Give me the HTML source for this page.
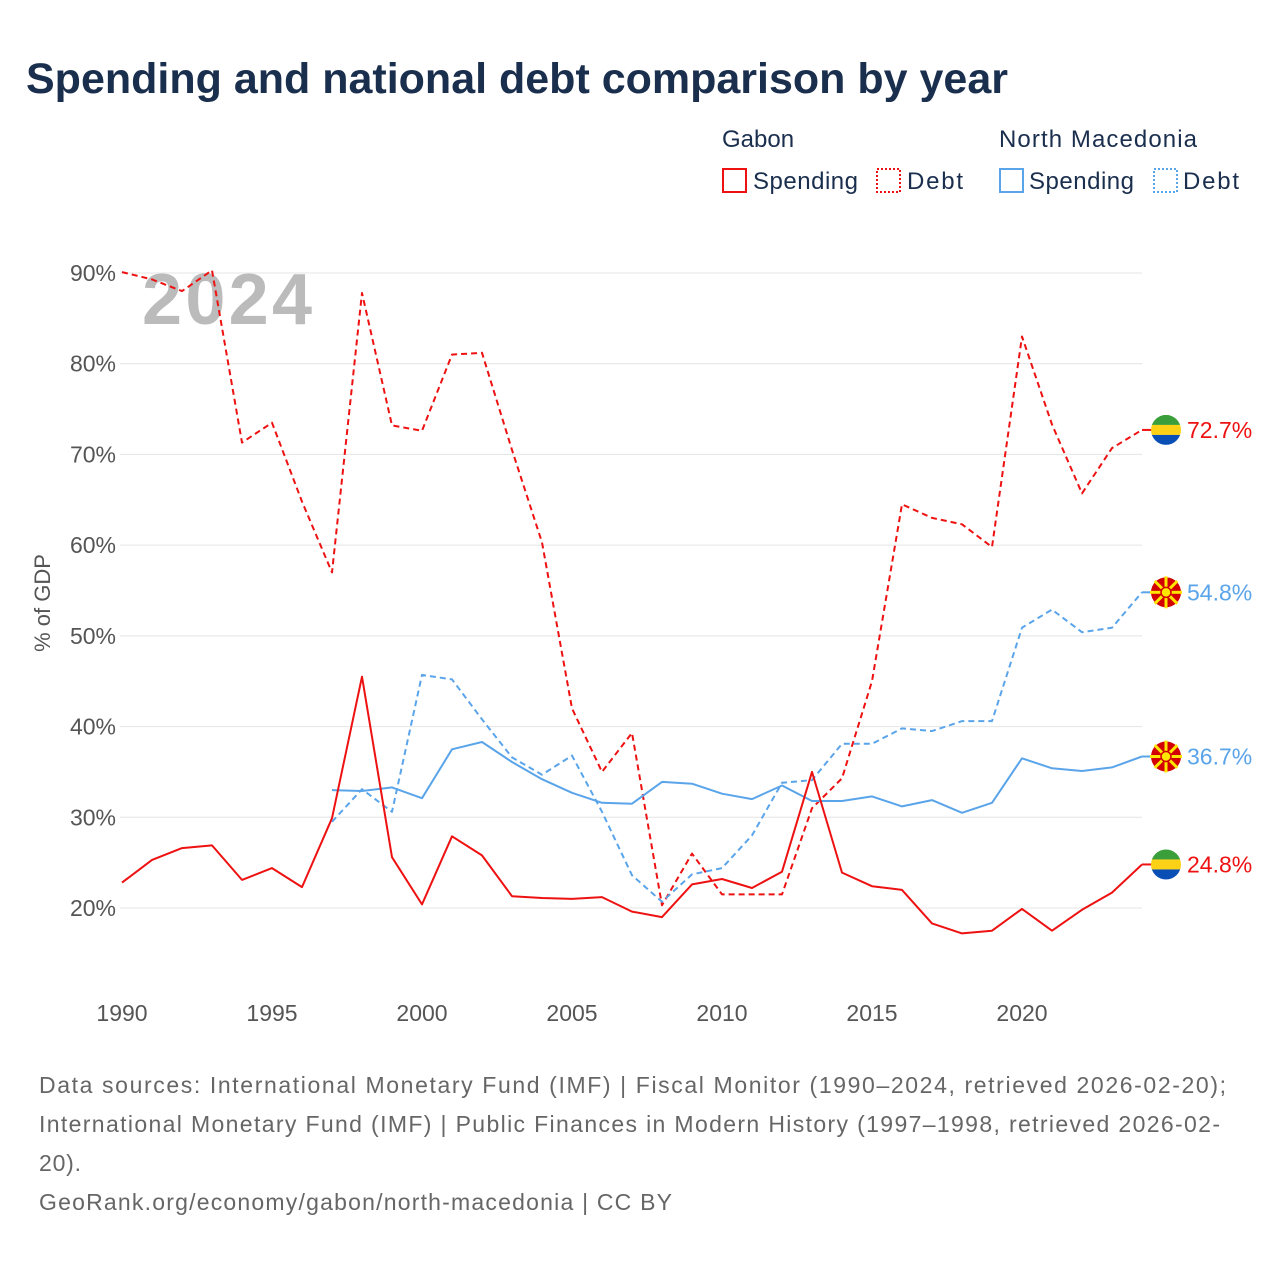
<!DOCTYPE html>
<html><head><meta charset="utf-8"><style>
body{margin:0;background:#fff;font-family:"Liberation Sans",sans-serif}
</style></head><body>
<svg id="chart" width="1280" height="1280" xmlns="http://www.w3.org/2000/svg" font-family="Liberation Sans, sans-serif">
<rect width="1280" height="1280" fill="#fff"/>
<text x="26" y="93" font-size="43" font-weight="bold" fill="#1a2e4d">Spending and national debt comparison by year</text>
<g font-size="24" fill="#1a2e4d">
<text x="722" y="147">Gabon</text>
<text x="999" y="147" textLength="198">North Macedonia</text>
<g><rect x="723" y="169" width="23" height="23" fill="none" stroke="#ee1111" stroke-width="2"/><text x="753" y="189" textLength="105">Spending</text></g>
<g><rect x="877" y="169" width="23" height="23" fill="none" stroke="#ee1111" stroke-width="2" stroke-dasharray="2,2"/><text x="907" y="189" textLength="56">Debt</text></g>
<g><rect x="1000" y="169" width="23" height="23" fill="none" stroke="#5aa4ea" stroke-width="2"/><text x="1029" y="189" textLength="105">Spending</text></g>
<g><rect x="1154" y="169" width="23" height="23" fill="none" stroke="#5aa4ea" stroke-width="2" stroke-dasharray="2,2"/><text x="1183" y="189" textLength="56">Debt</text></g>
</g>
<g id="grid"></g>
<text x="142" y="324" font-size="72" font-weight="bold" fill="#bbbbbb" textLength="170">2024</text>
<text transform="translate(50,603) rotate(-90)" text-anchor="middle" font-size="22" fill="#555">% of GDP</text>
<g id="series"></g>
<g id="ends"></g>
<g font-size="23" fill="#666">
<text x="39" y="1093" textLength="1187">Data sources: International Monetary Fund (IMF) | Fiscal Monitor (1990–2024, retrieved 2026-02-20);</text>
<text x="39" y="1132" textLength="1181">International Monetary Fund (IMF) | Public Finances in Modern History (1997–1998, retrieved 2026-02-</text>
<text x="39" y="1171" textLength="42">20).</text>
<text x="39" y="1210" textLength="633">GeoRank.org/economy/gabon/north-macedonia | CC BY</text>
</g>
</svg>
<script>
const gabonYears=[];for(let y=1990;y<=2024;y++)gabonYears.push(y);
const nmYears=[];for(let y=1997;y<=2024;y++)nmYears.push(y);
const gabonDebt=[90.1,89.3,88,90.3,71.3,73.5,64.8,57,87.8,73.2,72.6,81,81.2,70.5,60.3,42,35,39.3,20.3,26,21.5,21.5,21.5,31,34.3,45,64.5,63,62.3,59.8,83,73.3,65.7,70.7,72.7];
const gabonSpending=[22.8,25.3,26.6,26.9,23.1,24.4,22.3,29.9,45.5,25.6,20.4,27.9,25.8,21.3,21.1,21,21.2,19.6,19,22.6,23.2,22.2,24,35,23.9,22.4,22,18.3,17.2,17.5,19.9,17.5,19.8,21.7,24.8];
const nmSpending=[33,32.9,33.3,32.1,37.5,38.3,36.1,34.2,32.7,31.6,31.5,33.9,33.7,32.6,32,33.5,31.8,31.8,32.3,31.2,31.9,30.5,31.6,36.5,35.4,35.1,35.5,36.7];
const nmDebt=[29.5,33.1,30.6,45.7,45.2,40.8,36.6,34.7,36.8,30.6,23.6,20.7,23.7,24.4,28,33.8,34.1,38.1,38.1,39.8,39.5,40.6,40.6,50.9,52.9,50.4,50.9,54.8];
const yTicks=[20,30,40,50,60,70,80,90];
const xTicks=[1990,1995,2000,2005,2010,2015,2020];
const NS='http://www.w3.org/2000/svg';
const X=y=>122+(y-1990)*30;
const Y=v=>908-(v-20)*9.0714;
function mk(t,a,p){const e=document.createElementNS(NS,t);for(const k in a)e.setAttribute(k,a[k]);p.appendChild(e);return e;}
const grid=document.getElementById('grid');
yTicks.forEach(v=>{
 const l=mk('line',{x1:120,x2:1142,y1:Y(v),y2:Y(v),stroke:'#e4e4e4','stroke-width':1},grid);
 
 
 const t=mk('text',{x:116,y:Y(v)+8,'text-anchor':'end','font-size':23,fill:'#555'},grid);
 t.textContent=v+'%';
 
 
});
xTicks.forEach(v=>{
 const t=mk('text',{x:X(v),y:1021,'text-anchor':'middle','font-size':23,fill:'#555'},grid);
 t.textContent=v;
 
 
});
const S=document.getElementById('series');
function line(years,vals,color,dash,name){
 const d=vals.map((v,i)=>(i?'L':'M')+X(years[i]).toFixed(1)+','+Y(v).toFixed(1)).join('');
 const p=mk('path',{d:d,fill:'none',stroke:color,'stroke-width':2,'stroke-linejoin':'round'},S);
 if(dash)p.setAttribute('stroke-dasharray',dash);
 
 
}
line(gabonYears,gabonDebt,'#ee1111','6,4','gabon-debt-line');
line(nmYears,nmDebt,'#5aa4ea','6,4','nm-debt-line');
line(nmYears,nmSpending,'#5aa4ea',null,'nm-spending-line');
line(gabonYears,gabonSpending,'#ee1111',null,'gabon-spending-line');
const E=document.getElementById('ends');
function flagG(cy,name){
 const g=mk('g',{},E);
 
 
 const cp=mk('clipPath',{id:name+'c'},g);mk('circle',{cx:1166,cy:cy,r:15},cp);
 const h=mk('g',{'clip-path':'url(#'+name+'c)'},g);
 mk('rect',{x:1150,y:cy-15,width:32,height:10,fill:'#3a9e3a'},h);
 mk('rect',{x:1150,y:cy-5,width:32,height:10,fill:'#fcd116'},h);
 mk('rect',{x:1150,y:cy+5,width:32,height:10,fill:'#0a4fb5'},h);
}
function flagM(cy,name){
 const g=mk('g',{},E);
 
 
 mk('circle',{cx:1166,cy:cy,r:15,fill:'#d20000'},g);
 for(let i=0;i<8;i++){const a=i*Math.PI/4;
  mk('line',{x1:1166,y1:cy,x2:1166+16*Math.cos(a),y2:cy+16*Math.sin(a),stroke:'#ffe600','stroke-width':3},g);}
 mk('circle',{cx:1166,cy:cy,r:5,fill:'#ffe600',stroke:'#d20000','stroke-width':1.5},g);
}
function endLabel(v,color,isG,name){
 const cy=Y(v);
 const l=mk('line',{x1:1142,x2:1152,y1:cy,y2:cy,stroke:color,'stroke-width':2},E);
 
 
 if(isG)flagG(cy,name+'-flag');else flagM(cy,name+'-flag');
 const t=mk('text',{x:1187,y:cy+8,'font-size':23,fill:color},E);
 t.textContent=v.toFixed(1)+'%';
 
 
}
endLabel(gabonDebt[gabonDebt.length-1],'#ee1111',true,'gabon-debt-end');
endLabel(nmDebt[nmDebt.length-1],'#5aa4ea',false,'nm-debt-end');
endLabel(nmSpending[nmSpending.length-1],'#5aa4ea',false,'nm-spending-end');
endLabel(gabonSpending[gabonSpending.length-1],'#ee1111',true,'gabon-spending-end');
</script>
</body></html>
